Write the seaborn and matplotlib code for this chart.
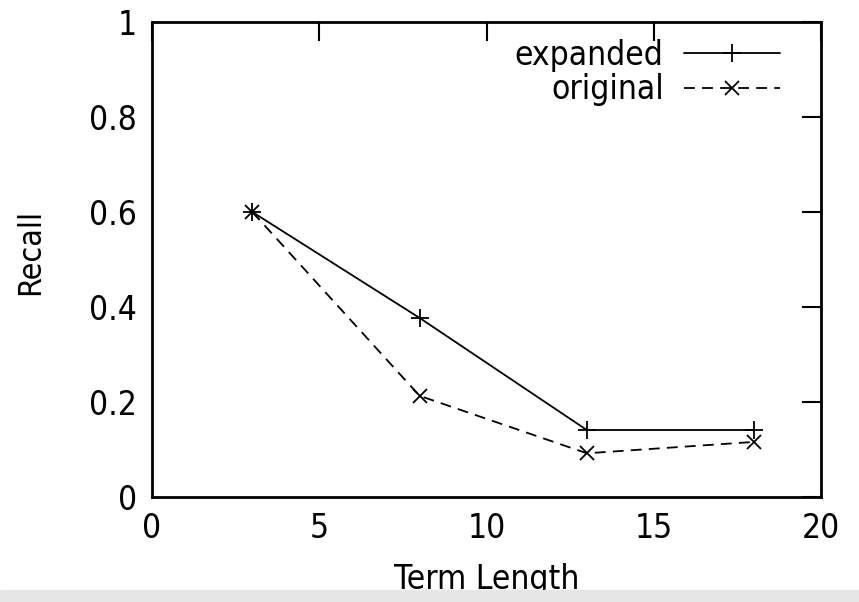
import matplotlib
matplotlib.use("Agg")
import matplotlib.pyplot as plt
import seaborn as sns
import pandas as pd

term_length = [3, 8, 13, 18]
expanded = [0.6, 0.377, 0.141, 0.141]
original = [0.6, 0.213, 0.092, 0.116]
x_ticks = [0, 5, 10, 15, 20]
y_ticks = [0, 0.2, 0.4, 0.6, 0.8, 1]
y_tick_labels = ["0", "0.2", "0.4", "0.6", "0.8", "1"]

sns.set_style("white")
plt.rcParams['font.family'] = ['DejaVu Sans']
plt.rcParams['font.stretch'] = 'condensed'
plt.rcParams['text.color'] = 'black'
plt.rcParams['axes.labelcolor'] = 'black'

fig = plt.figure(figsize=(8.59, 6.02), dpi=100)
ax = fig.add_axes([152/859, (602-497)/602, (821-152)/859, (497-22)/602])

df_e = pd.DataFrame({"x": term_length, "y": expanded})
df_o = pd.DataFrame({"x": term_length, "y": original})
sns.lineplot(data=df_e, x="x", y="y", ax=ax, color="black", lw=1.3,
             marker="+", markersize=13, markeredgewidth=1.3,
             markeredgecolor="black", label="expanded")
sns.lineplot(data=df_o, x="x", y="y", ax=ax, color="black", lw=1.3,
             marker="x", markersize=10, markeredgewidth=1.3,
             markeredgecolor="black", label="original",
             linestyle=(0, (6, 4)))

ax.set_xlim(0, 20)
ax.set_ylim(0, 1)
ax.set_xticks(x_ticks)
ax.set_xticklabels([str(v) for v in x_ticks])
ax.set_yticks(y_ticks)
ax.set_yticklabels(y_tick_labels)
ax.tick_params(direction="in", length=14, width=1.5, top=True, right=True,
               labelsize=24, pad=11, colors="black")
for s in ax.spines.values():
    s.set_linewidth(2)
    s.set_color("black")
    s.set_visible(True)
ax.set_xlabel("Term Length", fontsize=24, color="black")
ax.set_ylabel("Recall", fontsize=23, color="black")
ax.xaxis.set_label_coords(0.5, -(563-497)/475)
ax.yaxis.set_label_coords(-(152-46)/669, (497-252)/475)

leg = ax.legend(loc="upper right", bbox_to_anchor=((797-152)/669, 1.0),
                frameon=False, markerfirst=False,
                fontsize=24, handlelength=2.9, borderaxespad=0.1,
                labelspacing=0.05, handletextpad=0.6)
for t in leg.get_texts():
    t.set_ha("right")
    t.set_color("black")
leg._legend_box.align = "right"

fig.patches.append(plt.Rectangle((0, 0), 1, 12/602, transform=fig.transFigure,
                                 color="#e6e6e6", zorder=0))
fig.savefig("out.png", dpi=100)
